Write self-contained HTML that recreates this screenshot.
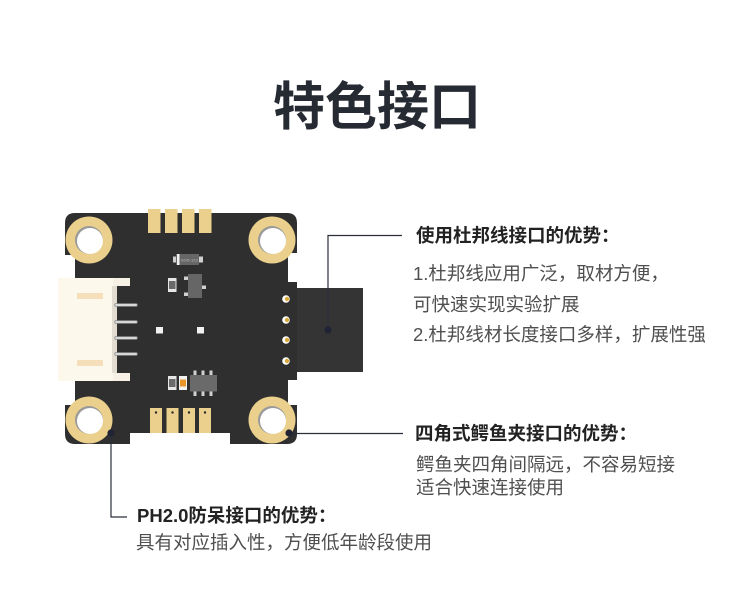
<!DOCTYPE html>
<html>
<head>
<meta charset="utf-8">
<style>
  html,body{margin:0;padding:0;background:#fff;}
  body{width:750px;height:612px;position:relative;overflow:hidden;
       font-family:"Liberation Sans","Noto Sans CJK SC",sans-serif;}
  .t{position:absolute;white-space:nowrap;line-height:20px;font-size:18.5px;color:#4f4f4f;}
  .h{font-weight:bold;color:#222;}
  .title{position:absolute;left:273px;top:78px;line-height:60px;font-size:52px;font-weight:bold;color:#262a33;white-space:nowrap;}
  svg{position:absolute;left:0;top:0;}
</style>
</head>
<body>
<svg width="750" height="612" viewBox="0 0 750 612" xmlns="http://www.w3.org/2000/svg">
  <!-- board -->
  <path d="M75 213 H287 Q297 213 297 223 V253 H288 V282 H297 V288 H363 V372 H297 V380 H288 V405 H297 V434 Q297 444 287 444 H230 V433 H130 V444 H75 Q65 444 65 434 V405 H75 V255 H65 V223 Q65 213 75 213 Z" fill="#2f2f2f"/>
  <rect x="297" y="288" width="66" height="84" fill="#343434"/>
  <!-- top pads -->
  <g fill="#ead08c">
    <rect x="148" y="209" width="12.5" height="24"/>
    <rect x="165" y="209" width="12.5" height="24"/>
    <rect x="182" y="209" width="12.5" height="24"/>
    <rect x="199" y="209" width="12.5" height="24"/>
    <rect x="150" y="408" width="12" height="25"/>
    <rect x="166.5" y="408" width="12" height="25"/>
    <rect x="183" y="408" width="12" height="25"/>
    <rect x="199" y="408" width="12" height="25"/>
  </g>
  <g fill="#2a2a2a">
    <circle cx="156" cy="412.5" r="1.2"/>
    <circle cx="172.5" cy="412.5" r="1.2"/>
    <circle cx="189" cy="412.5" r="1.2"/>
    <circle cx="205" cy="412.5" r="1.2"/>
  </g>
  <!-- holes -->
  <g>
    <circle cx="89" cy="240" r="23.5" fill="#ead08c"/>
    <circle cx="89" cy="240" r="14" fill="#9a9a9a"/>
    <circle cx="90" cy="241" r="13" fill="#fff"/>
    <circle cx="272" cy="240" r="23.5" fill="#ead08c"/>
    <circle cx="272" cy="240" r="14" fill="#9a9a9a"/>
    <circle cx="273" cy="241" r="13" fill="#fff"/>
    <circle cx="89" cy="420" r="23.5" fill="#ead08c"/>
    <circle cx="89" cy="420" r="14" fill="#9a9a9a"/>
    <circle cx="90" cy="421" r="13" fill="#fff"/>
    <circle cx="272" cy="420" r="23.5" fill="#ead08c"/>
    <circle cx="272" cy="420" r="14" fill="#9a9a9a"/>
    <circle cx="273" cy="421" r="13" fill="#fff"/>
  </g>
  <!-- white PH2.0 connector -->
  <rect x="58" y="278" width="55" height="103" fill="#fdf8ec"/>
  <rect x="113" y="278" width="17" height="8" fill="#f6f1e4"/>
  <rect x="113" y="373" width="17" height="8" fill="#f6f1e4"/>
  <rect x="112" y="286" width="5" height="87" fill="#e2ddd0"/>
  <rect x="77" y="293" width="26" height="6" fill="#f5dfba"/>
  <rect x="77" y="360" width="26" height="6" fill="#f5dfba"/>
  <g stroke="#8a8a8a" stroke-width="3.4" stroke-linecap="round">
    <line x1="116" y1="305" x2="136" y2="305"/>
    <line x1="116" y1="322" x2="136" y2="322"/>
    <line x1="116" y1="338" x2="136" y2="338"/>
    <line x1="116" y1="354" x2="136" y2="354"/>
  </g>
  <g stroke="#d8d8d8" stroke-width="2" stroke-linecap="round">
    <line x1="116" y1="305" x2="136" y2="305"/>
    <line x1="116" y1="322" x2="136" y2="322"/>
    <line x1="116" y1="338" x2="136" y2="338"/>
    <line x1="116" y1="354" x2="136" y2="354"/>
  </g>
  <!-- right pin dots -->
  <g>
    <circle cx="286" cy="299" r="3.8" fill="#fff"/><circle cx="287" cy="299" r="2.2" fill="#d9a93c"/>
    <circle cx="286" cy="320" r="3.8" fill="#fff"/><circle cx="287" cy="320" r="2.2" fill="#d9a93c"/>
    <circle cx="286" cy="340" r="3.8" fill="#fff"/><circle cx="287" cy="340" r="2.2" fill="#d9a93c"/>
    <circle cx="286" cy="361" r="3.8" fill="#fff"/><circle cx="287" cy="361" r="2.2" fill="#d9a93c"/>
  </g>
  <!-- white squares -->
  <rect x="156" y="327" width="7" height="6.5" fill="#f2f2f2"/>
  <rect x="197" y="327" width="7" height="6.5" fill="#f2f2f2"/>
  <!-- diode -->
  <rect x="173" y="256.5" width="30" height="6" fill="#d0d0d0"/>
  <rect x="176" y="254" width="23" height="11" fill="#666"/>
  <rect x="177" y="254" width="2.5" height="11" fill="#f0f0f0"/>
  <text x="181" y="261.5" font-size="4" fill="#bbb" font-family="Liberation Sans, sans-serif">SOD-123</text>
  <!-- resistor top -->
  <rect x="168" y="278" width="8.5" height="14" fill="#e6e6e6"/>
  <rect x="169" y="281" width="6.5" height="8" fill="#6a6a6a"/>
  <!-- SOT-23 -->
  <rect x="184" y="276.5" width="5" height="3.5" fill="#d0d0d0"/>
  <rect x="184" y="292.5" width="5" height="3.5" fill="#d0d0d0"/>
  <rect x="201" y="285.5" width="5" height="3.5" fill="#d0d0d0"/>
  <rect x="188" y="274" width="14" height="24" fill="#666"/>
  <!-- bottom resistor -->
  <rect x="168" y="376" width="8.5" height="14" fill="#e6e6e6"/>
  <rect x="169" y="379" width="6.5" height="8" fill="#6a6a6a"/>
  <!-- LED -->
  <rect x="179" y="376" width="8" height="14" fill="#f2f2f2"/>
  <rect x="180" y="379.5" width="6" height="7" fill="#e8962a"/>
  <!-- SOT-23-6 -->
  <g fill="#d0d0d0">
    <rect x="193.5" y="370.5" width="3" height="5"/>
    <rect x="201.5" y="370.5" width="3" height="5"/>
    <rect x="209.5" y="370.5" width="3" height="5"/>
    <rect x="193.5" y="391" width="3" height="5"/>
    <rect x="201.5" y="391" width="3" height="5"/>
    <rect x="209.5" y="391" width="3" height="5"/>
  </g>
  <rect x="190" y="375" width="27" height="16.5" fill="#6a6a6a"/>
  <!-- annotation lines -->
  <g stroke="#2a2e3a" stroke-width="1.2" fill="none">
    <polyline points="328,330 328,235.5 402,235.5"/>
    <line x1="289" y1="433.5" x2="403" y2="433.5"/>
    <polyline points="111,433 111,517 127,517"/>
  </g>
  <g fill="#1f2333">
    <circle cx="328" cy="330" r="3.6"/>
    <circle cx="289" cy="433" r="3.6"/>
    <circle cx="111" cy="433" r="3.6"/>
  </g>
</svg>

<div class="title">特色接口</div>

<div class="t h" style="left:416px;top:226px;">使用杜邦线接口的优势：</div>
<div class="t" style="left:413px;top:264px;">1.杜邦线应用广泛，取材方便，</div>
<div class="t" style="left:413px;top:295px;">可快速实现实验扩展</div>
<div class="t" style="left:413px;top:325px;">2.杜邦线材长度接口多样，扩展性强</div>

<div class="t h" style="left:415px;top:424px;">四角式鳄鱼夹接口的优势：</div>
<div class="t" style="left:416px;top:455px;">鳄鱼夹四角间隔远，不容易短接</div>
<div class="t" style="left:416px;top:478px;">适合快速连接使用</div>

<div class="t h" style="left:137px;top:506px;">PH2.0防呆接口的优势：</div>
<div class="t" style="left:136px;top:533px;">具有对应插入性，方便低年龄段使用</div>
</body>
</html>
